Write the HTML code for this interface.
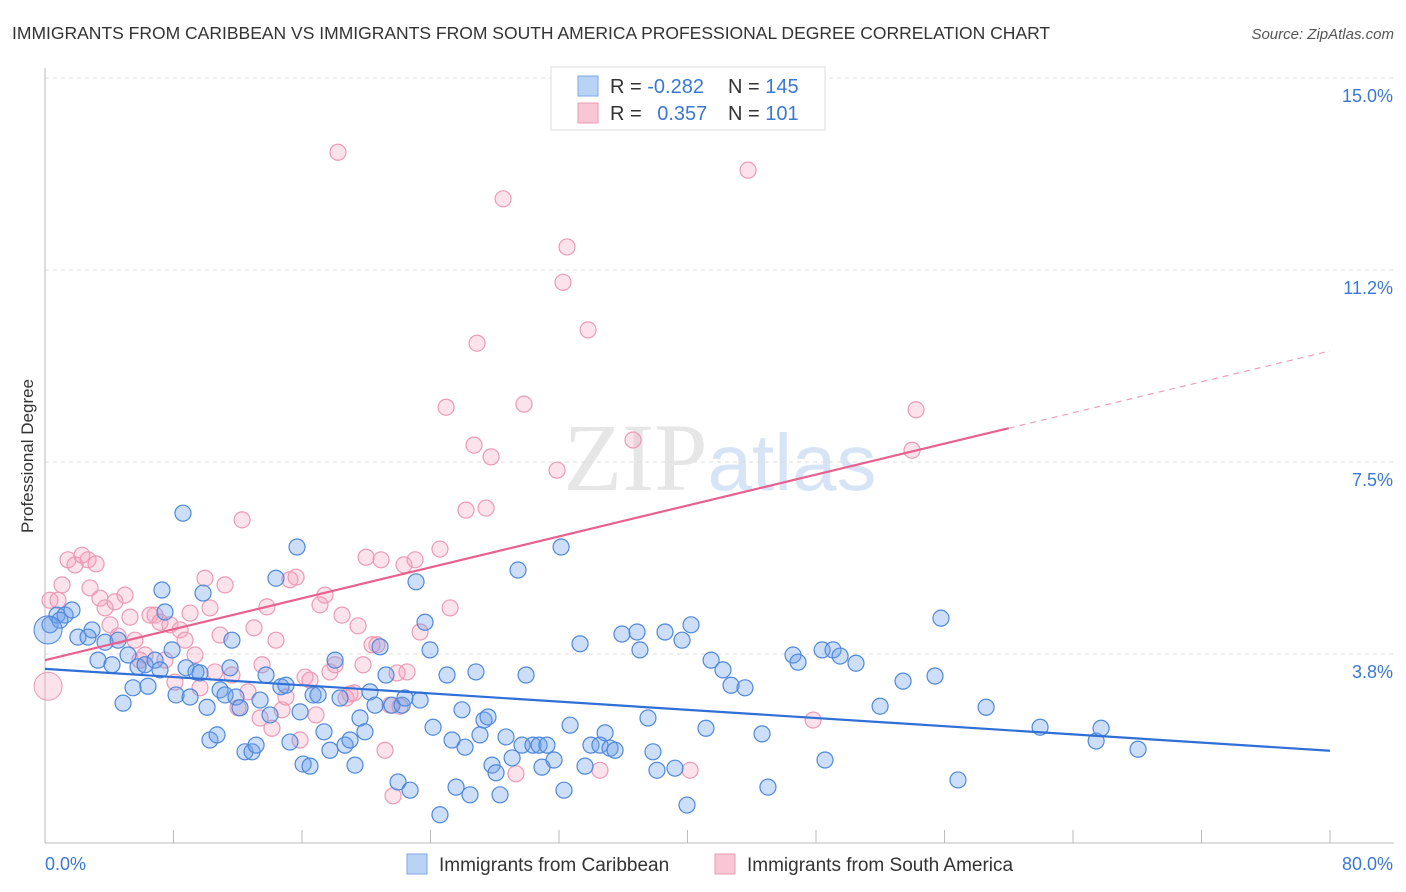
<!DOCTYPE html>
<html><head><meta charset="utf-8"><style>
body{margin:0;background:#fff;font-family:"Liberation Sans",sans-serif;}
svg{display:block}
</style></head><body>
<svg id="chart" width="1406" height="892" xmlns="http://www.w3.org/2000/svg">
<text x="12" y="39" font-size="17.5" fill="#333">IMMIGRANTS FROM CARIBBEAN VS IMMIGRANTS FROM SOUTH AMERICA PROFESSIONAL DEGREE CORRELATION CHART</text>
<text x="1394" y="39" font-size="15" fill="#555" text-anchor="end" font-style="italic">Source: ZipAtlas.com</text>
<text x="720" y="490" font-size="96" text-anchor="middle" fill="#e6e6e6" font-family="Liberation Serif,serif">ZIP<tspan fill="#d6e4f5" font-family="Liberation Sans,sans-serif" font-size="80">atlas</tspan></text>
<g id="grid"></g>
<g id="axes"></g>
<g id="pink"></g>
<g id="blue"></g>
<g id="trends"></g>
<text transform="translate(33,456) rotate(-90)" font-size="17" fill="#333" text-anchor="middle">Professional Degree</text>
<g>
<rect x="551" y="67" width="274" height="63" fill="#fff" stroke="#ddd"/>
<rect x="578" y="76" width="20" height="20" fill="#b9d3f5" stroke="#7aa8e6"/>
<rect x="578" y="103" width="20" height="20" fill="#f9c6d5" stroke="#ec9ab4"/>
<text x="610" y="93" font-size="20" fill="#333">R = <tspan fill="#3a78d6">-0.282</tspan></text>
<text x="728" y="93" font-size="20" fill="#333">N = <tspan fill="#3a78d6">145</tspan></text>
<text x="610" y="120" font-size="20" fill="#333">R = <tspan fill="#3a78d6" dx="10">0.357</tspan></text>
<text x="728" y="120" font-size="20" fill="#333">N = <tspan fill="#3a78d6">101</tspan></text>
</g>
<g>
<rect x="407" y="854" width="20" height="20" fill="#b9d3f5" stroke="#7aa8e6"/>
<text x="439" y="871" font-size="19" fill="#333">Immigrants from Caribbean</text>
<rect x="715" y="854" width="20" height="20" fill="#f9c6d5" stroke="#ec9ab4"/>
<text x="747" y="871" font-size="19" fill="#333">Immigrants from South America</text>
</g>
</svg>
<script>
const yTicks=[15.0,11.25,7.5,3.75];
const yTickLabels=["15.0%","11.2%","7.5%","3.8%"];
const xTickValues=[0,8,16,24,32,40,48,56,64,72,80];
const xLabels=["0.0%","80.0%"];
const blueX=[0.31,0.75,1.25,1.68,0.93,2.05,2.68,2.93,3.30,3.74,4.17,4.55,4.86,5.17,5.48,5.79,6.23,6.41,6.85,7.16,7.28,7.47,7.91,8.16,8.59,8.78,9.03,9.40,9.65,9.84,10.09,10.27,10.71,10.90,11.21,11.52,11.64,11.89,12.14,12.45,12.89,13.14,13.39,13.76,14.01,14.38,14.69,15.00,15.25,15.69,15.88,16.07,16.50,16.69,17.00,17.37,17.74,18.06,18.37,18.68,18.99,19.30,19.61,19.92,20.23,20.55,20.86,21.23,21.60,21.98,22.23,22.41,22.73,23.10,23.35,23.66,23.97,24.16,24.59,25.03,25.34,25.59,25.96,26.15,26.46,26.83,27.08,27.33,27.58,27.83,28.08,28.33,28.70,29.08,29.45,29.70,29.95,30.38,30.76,30.94,31.25,31.69,32.13,32.31,32.69,33.31,33.62,33.99,34.55,34.87,35.18,35.49,35.92,36.86,37.04,37.54,37.85,38.10,38.60,39.22,39.66,39.97,40.22,41.15,41.47,42.21,42.71,43.58,44.64,45.01,46.57,46.88,48.56,48.38,49.06,49.50,50.49,51.99,53.42,55.41,55.78,56.84,58.59,61.95,65.44,65.75,68.05];
const blueY=[4.32,4.51,4.51,4.61,4.41,4.08,4.08,4.22,3.63,3.98,3.54,4.02,2.79,3.73,3.09,3.50,3.54,3.12,3.63,3.44,5.00,4.57,3.83,2.95,6.50,3.48,2.91,3.40,3.38,4.94,2.71,2.07,2.17,3.05,2.95,3.48,4.02,2.91,2.70,1.84,1.84,1.97,2.85,3.34,2.56,5.23,3.11,3.14,2.03,5.84,2.62,1.60,1.56,2.95,2.95,2.23,1.87,3.63,2.89,1.97,2.07,1.58,2.50,2.23,3.01,2.75,3.89,3.34,2.75,1.25,2.75,2.89,1.09,5.16,2.85,4.37,3.83,2.32,0.61,3.34,2.07,1.15,2.66,1.93,1.00,3.40,2.17,2.46,2.52,1.58,1.43,1.00,2.13,1.72,5.39,1.97,3.34,1.97,1.97,1.54,1.97,1.68,5.84,1.09,2.36,3.95,1.56,1.97,1.97,2.21,1.91,1.87,4.14,4.18,3.83,2.50,1.84,1.48,4.18,1.52,4.02,0.80,4.32,2.30,3.63,3.44,3.14,3.09,2.19,1.15,3.73,3.59,1.68,3.83,3.83,3.71,3.57,2.73,3.22,3.32,4.45,1.29,2.71,2.32,2.05,2.30,1.89];
const pinkX=[0.31,0.81,1.06,1.43,1.87,2.30,2.68,3.18,2.80,3.42,3.74,4.05,4.36,4.55,4.98,5.29,5.60,5.91,6.23,6.54,6.85,7.16,7.47,7.78,8.09,8.41,8.72,9.03,9.34,9.65,9.96,10.27,10.58,10.90,11.21,11.64,12.02,12.27,12.64,13.01,13.39,13.51,13.82,14.13,14.38,14.76,15.00,15.25,15.63,15.88,16.19,16.50,16.87,17.12,17.43,17.74,18.06,18.24,18.49,18.74,18.99,19.24,19.49,19.80,19.99,20.36,20.67,20.92,21.17,21.48,21.67,21.92,22.10,22.35,22.54,23.04,23.35,24.59,24.97,25.22,26.21,26.71,26.90,27.46,27.77,28.52,29.32,29.82,31.88,32.25,32.50,33.81,34.55,36.61,40.16,43.77,47.82,53.98,54.23];
const pinkY=[4.80,4.80,5.10,5.59,5.49,5.68,5.59,5.51,5.04,4.84,4.65,4.32,4.77,4.10,4.90,4.47,4.02,3.63,3.73,4.51,4.51,4.37,3.63,4.32,3.20,4.22,4.02,4.55,3.73,3.09,5.23,4.65,3.40,4.12,5.10,3.34,2.70,6.37,3.01,4.26,2.50,3.54,4.67,2.30,4.02,2.66,2.91,5.20,5.25,2.07,3.30,3.24,2.56,4.71,4.90,3.40,3.54,13.55,4.51,2.89,2.97,2.99,4.30,3.54,5.64,3.93,3.93,5.59,1.87,2.75,0.98,3.38,2.73,5.49,3.40,5.59,4.18,5.80,8.57,4.65,6.56,7.83,9.82,6.60,7.60,12.64,1.41,8.63,7.34,11.01,11.70,10.08,1.48,7.93,1.48,13.20,2.46,7.73,8.52];
const bigBlue=[0.19,4.22];
const bigPink=[0.19,3.12];
const blueTrend=[3.46,1.86];
const pinkTrend=[3.63,9.67];
const pinkSolidEnd=60;

const NS="http://www.w3.org/2000/svg";
const X0=45,X1=1330,Y0=846,PPU=51.2;
function sx(v){return X0+(X1-X0)*v/80;}
function sy(v){return Y0-v*PPU;}
function mk(tag,attrs,parent){const e=document.createElementNS(NS,tag);for(const k in attrs)e.setAttribute(k,attrs[k]);parent.appendChild(e);return e;}
const grid=document.getElementById('grid'),axes=document.getElementById('axes');
yTicks.forEach((t,i)=>{
  const l=mk('line',{x1:45,x2:1394,y1:sy(t),y2:sy(t),stroke:'#ddd','stroke-dasharray':'4,4'},grid);
  
  
  const tx=mk('text',{x:1393,y:sy(t)+24,'font-size':18,fill:'#3a78d6','text-anchor':'end'},axes);
  tx.textContent=yTickLabels[i];
  
  
});
const ax=mk('line',{x1:45,x2:1394,y1:843,y2:843,stroke:'#bbb'},axes);


const ay=mk('line',{x1:45,x2:45,y1:68,y2:843,stroke:'#bbb'},axes);


xTickValues.forEach(v=>{
  const t=mk('line',{x1:sx(v),x2:sx(v),y1:830,y2:843,stroke:'#bbb'},axes);
  
  
});
const xl0=mk('text',{x:45,y:870,'font-size':18,fill:'#3a78d6'},axes);xl0.textContent=xLabels[0];


const xl1=mk('text',{x:1393,y:870,'font-size':18,fill:'#3a78d6','text-anchor':'end'},axes);xl1.textContent=xLabels[1];


function pts(xs,ys,g,fill,stroke,name){
  xs.forEach((x,i)=>{const c=mk('circle',{cx:sx(x),cy:sy(ys[i]),r:8,fill:fill,stroke:stroke,'stroke-width':1.2},g);
  
  });
}
const pg=document.getElementById('pink'),bg=document.getElementById('blue');
pts(pinkX,pinkY,pg,'rgba(244,160,190,0.3)','#eb9ab6','south-america-point');
pts(blueX,blueY,bg,'rgba(110,160,235,0.35)','#4f88da','caribbean-point');
const bb=mk('circle',{cx:sx(bigBlue[0]),cy:sy(bigBlue[1]),r:14,fill:'rgba(110,160,235,0.35)',stroke:'#4f88da'},bg);


const bp=mk('circle',{cx:sx(bigPink[0]),cy:sy(bigPink[1]),r:14,fill:'rgba(244,160,190,0.3)',stroke:'#eb9ab6'},pg);


const tg=document.getElementById('trends');
const bl=mk('line',{x1:sx(0),y1:sy(blueTrend[0]),x2:sx(80),y2:sy(blueTrend[1]),stroke:'#2f6fd6','stroke-width':2.2},tg);


const pm=pinkTrend[0]+(pinkTrend[1]-pinkTrend[0])*pinkSolidEnd/80;
const pl=mk('line',{x1:sx(0),y1:sy(pinkTrend[0]),x2:sx(pinkSolidEnd),y2:sy(pm),stroke:'#e8608f','stroke-width':2.2},tg);


const pd=mk('line',{x1:sx(pinkSolidEnd),y1:sy(pm),x2:sx(80),y2:sy(pinkTrend[1]),stroke:'#eea0ba','stroke-width':1.2,'stroke-dasharray':'6,5'},tg);


</script>
</body></html>
